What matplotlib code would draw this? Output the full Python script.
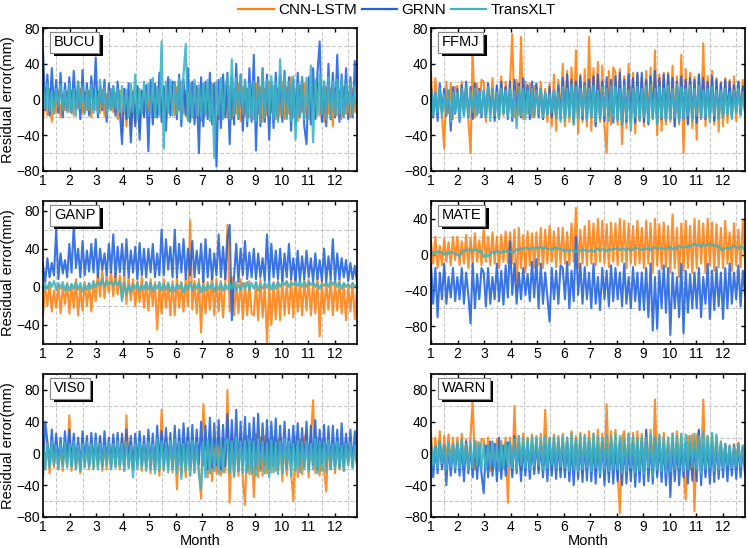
import numpy as np
import matplotlib
matplotlib.use('Agg')
import matplotlib.pyplot as plt
import matplotlib.patheffects as pe
from matplotlib.ticker import FixedLocator

plt.rcParams['font.family'] = ['Liberation Sans', 'DejaVu Sans']

# residual errors (mm), 12 samples per month
stations = ['BUCU', 'FFMJ', 'GANP', 'MATE', 'VIS0', 'WARN']
models = ['CNN-LSTM', 'GRNN', 'TransXLT']

bucu_cnn = [-22, 8, -18, 12, -25, 5, -15, 10, -20, 6, -12, 9,
            -14, 10, -18, 6, -10, 12, -16, 8, -12, 10, -20, 7,
            -12, 9, -15, 11, -18, 6, -10, 12, -14, 8, -22, 10,
            -38, 12, -30, 8, -40, 10, -25, 14, -36, 9, -18, 12,
            -12, 15, -20, 10, -16, 18, -14, 12, -22, 16, -10, 14,
            -18, 14, -12, 20, -16, 10, -22, 15, -14, 18, -20, 12,
            -24, 16, -18, 12, -20, 18, -15, 14, -22, 10, -18, 15,
            -20, 15, -22, 12, -16, 18, -24, 14, -18, 12, -20, 16,
            -22, 18, -16, 14, -25, 12, -18, 20, -14, 15, -22, 12,
            -18, 20, -22, 14, -16, 25, -20, 12, -24, 16, -14, 18,
            -20, 14, -16, 12, -22, 18, -18, 10, -25, 14, -16, 12,
            -30, 12, -18, 10, -22, 14, -16, 8, -20, 12, -14, 10]
bucu_grnn = [55, -12, 28, -18, 35, -10, 22, -15, 30, -20, 18, -12,
             25, -15, 32, -10, 20, -22, 33, -14, 18, -18, 26, -10,
             47, -20, 15, -12, 22, -25, 18, -10, 15, -18, 20, -14,
             -50, 12, -22, 18, -48, 8, -30, 15, -45, 10, -20, 16,
             -58, 22, -28, 18, -20, 30, -25, 15, -35, 25, -18, 20,
             18, -22, 28, -30, 22, -18, 35, -25, 20, -28, 15, -60,
             25, -30, 20, -22, 30, -28, 18, -75, 22, -32, 28, -20,
             30, -50, 25, -28, 40, -22, 28, -35, 22, -30, 35, -25,
             50, -57, 25, -30, 35, -25, 28, -45, 20, -32, 30, -22,
             28, -25, 32, -20, 25, -35, 22, -28, 30, -20, 25, -30,
             -50, 25, -28, 35, -22, 30, 65, -25, 20, -30, 40, -22,
             30, -20, 50, -25, 28, -18, 35, -22, 25, -20, 43, -15]
bucu_trans = [14, -10, 18, -13, 9, -16, 12, -8, 16, -12, 10, -14,
              18, -14, 12, -18, 20, -10, 14, -16, 11, -12, 16, -15,
              10, -15, 22, -9, 13, -17, 9, -12, 15, -10, 12, -14,
              15, -13, 11, -20, 18, -14, 28, -22, 12, -16, 20, -12,
              18, -16, 24, -20, 14, -18, 65, -55, 20, -15, 22, -18,
              20, -16, 24, -22, 28, 62, -24, 18, -20, 22, -18, 16,
              -20, 18, -16, 22, -24, 16, -65, 20, -18, 24, -22, 15,
              25, -22, 45, -18, 24, -20, 28, -16, 22, -24, 18, -20,
              20, -24, 18, -26, 32, -20, 22, -18, 26, -22, 20, -25,
              45, -18, 28, -22, 20, -24, 26, -45, 18, -20, 25, -22,
              24, -22, 38, -48, 22, -18, 28, -16, 20, -22, 25, -20,
              20, -18, 22, -16, 24, -20, 18, -14, 20, -16, 15, -12]

ffmj_cnn = [30, -20, 24, -14, 12, -18, -55, 20, -15, 18, -22, 14,
            15, -18, 20, -12, 16, -22, -60, 50, -20, 18, -15, 22,
            20, -25, 18, -16, 24, -20, 15, -22, 26, -18, 20, -15,
            18, 73, -20, 22, -18, 70, -22, 20, -16, 18, -20, 15,
            16, -14, 20, -22, 12, -25, 18, -30, 28, -35, 22, -20,
            40, -30, 32, -25, 36, -28, 55, -38, 28, -25, 34, -30,
            70, -35, 35, -28, 42, -25, 38, -30, -60, 32, -28, 36,
            30, -28, 34, -50, 26, -32, 40, -25, 30, -38, 28, -24,
            25, -30, 32, -26, 36, -22, 55, -40, 28, -35, 30, -28,
            30, -25, 38, -30, 26, -28, 50, -60, 34, -26, 30, -32,
            25, -45, 28, -22, 63, -30, 26, -24, 32, -28, 24, -36,
            20, -30, 24, -26, 22, -20, 26, -24, 20, -18, 22, -15]
ffmj_grnn = [15, -20, 8, -24, 18, -14, 12, -18, 10, -35, 14, -16,
             12, -25, 16, -18, 20, -20, 14, -22, 18, -16, 12, -20,
             10, -20, 18, -14, 12, -24, 16, -18, 20, -15, 14, -22,
             20, -24, 22, -16, 18, -20, 24, -14, 16, -22, 20, -18,
             18, -20, 12, -22, 8, -16, 14, -20, 10, -18, 16, -22,
             24, -20, 28, -16, 22, -26, 20, -18, 26, -22, 18, -20,
             22, -20, 26, -30, 28, -22, 20, -24, 25, -18, 22, -26,
             26, -22, 30, -28, 22, -25, 28, -20, 24, -26, 30, -22,
             30, -25, 22, -28, 26, -20, 32, -26, 24, -22, 28, -24,
             28, -22, 24, -30, 20, -25, 26, -22, 22, -28, 24, -20,
             22, -26, 28, -20, 24, -22, 20, -18, 26, -24, 22, -20,
             18, -20, 22, -15, 20, -18, 16, -14, 20, -16, 15, -12]
ffmj_trans = [10, -18, 8, -14, 12, -20, 6, -16, 10, -25, 8, -15,
              8, -22, 12, -18, 14, -20, 10, -14, 12, -18, 9, -16,
              10, -20, 14, -24, 12, -18, 8, -22, 12, -16, 10, -20,
              12, -20, 10, -32, 14, -18, 12, -22, 10, -16, 12, -20,
              10, -15, 12, -20, 8, -18, 6, -14, 10, -22, 8, -25,
              14, -24, 12, -20, 16, -28, 14, -22, 12, -18, 15, -24,
              12, -20, 15, -25, 10, -22, 14, -18, 12, -24, 15, -20,
              14, -24, 12, -28, 15, -22, 10, -35, 12, -20, 14, -24,
              12, -20, 15, -25, 16, -22, 12, -28, 14, -20, 12, -24,
              15, -22, 12, -20, 17, -25, 14, -22, 12, -18, 15, -24,
              12, -18, 15, -22, 10, -20, 12, -25, 14, -18, 10, -22,
              10, -20, 12, -18, 8, -22, 10, -15, 12, -18, 8, -14]

ganp_cnn = [-30, 0, -20, 5, -26, -4, -22, 2, -28, 0, -18, 4,
            -28, 2, -22, 8, -30, 0, -25, 5, -20, 3, -26, 6,
            -15, 15, -10, 18, -12, 12, -6, 16, -10, 14, -8, 12,
            -12, 12, -18, 10, -14, 8, -20, 6, -16, 10, -22, 5,
            -25, 8, -20, 5, -45, 3, -28, 8, -22, 4, -30, 6,
            -30, 10, -22, 5, -26, 8, -20, 70, -24, 6, -28, 8,
            -48, 10, -28, 5, -24, 12, -30, 8, -26, 6, -32, 4,
            65, -26, 10, -30, 5, -28, 8, -34, 4, -30, 6, -28,
            -30, 5, -35, 8, -32, 3, -58, 2, -40, 5, -34, 6,
            -35, 10, -30, 5, -28, 8, -32, 10, -26, 6, -30, 8,
            -25, 8, -30, 5, -28, 10, -52, 6, -28, 5, -24, 8,
            -30, 5, -25, 8, -28, 3, -35, 2, -26, 4, -34, 0]
ganp_grnn = [22, 5, 30, 10, 25, 12, 60, 8, 35, 14, 28, 10,
             45, 15, 65, 20, 40, 10, 48, 12, 38, 16, 45, 15,
             50, 10, 40, 18, 35, 12, 45, 15, 55, 10, 42, 15,
             45, 12, 50, 10, 38, 15, 42, 8, 46, 12, 40, 10,
             40, 15, 45, 10, 35, 12, 60, 12, 50, 18, 42, 10,
             60, 10, 45, 15, 50, 8, 40, 12, 48, 10, 38, 14,
             45, 5, 50, 10, 40, 8, 35, 12, 55, 10, 42, 8,
             50, 65, -35, 10, 45, 5, 40, 12, 48, 8, 36, 10,
             40, 8, 35, 10, 30, 6, 55, 5, 45, 10, 38, 8,
             40, 5, 35, 10, 45, 8, 30, 5, 38, 6, 32, 8,
             38, 10, 30, 5, 35, 8, 28, 6, 40, 5, 32, 8,
             50, 5, 35, 8, 30, 10, 28, 6, 25, 8, 22, 5]
ganp_trans = [-5, 3, -2, 5, 0, 6, -3, 4, -2, 5, -4, 3,
              -4, 3, -2, 5, -3, 4, -5, 2, -3, 4, -2, 5,
              0, 5, 2, 8, 0, 6, 3, 5, 1, 7, 2, 6,
              -15, 4, -8, 2, -5, 3, -2, 4, -4, 2, -3, 5,
              -3, 4, -5, 2, -2, 5, -4, 3, -3, 4, -5, 2,
              -5, 3, -2, 4, -6, 2, -3, 5, -4, 3, -2, 4,
              -6, 2, -4, 3, -2, 4, -5, 2, -3, 4, -4, 3,
              -3, 4, -2, 5, -4, 2, -3, 4, -2, 5, -3, 4,
              -2, 5, -4, 3, -2, 4, -1, 5, -3, 4, -2, 5,
              0, 5, 2, 6, 0, 4, 2, 5, 1, 6, 0, 5,
              0, 6, 2, 5, 0, 4, -2, 3, 1, 5, 0, 6,
              2, 6, 0, 5, -2, 4, 0, 3, -1, 4, 0, 3]

mate_cnn = [15, -10, 20, -15, 10, -12, 18, -8, 14, -12, 20, -6,
            20, -12, 15, -10, 22, -15, 18, -10, 24, -8, 16, -12,
            30, -8, 20, -12, 25, -10, 20, -15, 22, -8, 26, -10,
            25, -10, 28, -40, 30, -15, 22, -20, 26, -12, 24, -15,
            25, -12, 30, -15, 28, -10, 32, -8, 26, -14, 30, -10,
            30, -10, 25, -12, 35, -8, 52, -15, 28, -10, 32, -12,
            38, -10, 35, -12, 40, -8, 38, -10, 34, -14, 36, -8,
            35, -12, 40, -8, 38, -15, 35, -10, 32, -12, 38, -10,
            30, -15, 38, -10, 35, -20, 40, -12, 34, -16, 36, -14,
            32, -20, 45, -15, 30, -25, 35, -18, 38, -15, 32, -20,
            40, -15, 38, -10, 35, -20, 40, -12, 36, -18, 34, -14,
            30, -15, 38, -10, 25, -18, 35, -12, 28, -14, 38, -10]
mate_grnn = [-10, -55, -15, -70, -20, -50, -10, -55, -25, -48, -15, -52,
             -25, -50, -15, -55, -20, -45, -77, -10, -60, -22, -50, -15,
             -20, -58, -15, -55, -25, -50, -10, -52, -18, -56, -12, -48,
             15, -45, -10, -55, -20, -50, -15, -45, -22, -52, -8, -48,
             -5, -60, -10, -55, -20, -48, -75, -15, -50, -18, -55, -12,
             -15, -50, -8, -60, -18, -52, 20, -45, -10, -55, -14, -50,
             -20, -60, -10, -55, -25, -62, -15, -50, -18, -58, -12, -52,
             -15, -50, -20, -58, -10, -55, -25, -60, -14, -52, -20, -62,
             -20, -62, -15, -70, -10, -85, -25, -83, -18, -60, -12, -65,
             -15, -90, -20, -60, -25, -70, -10, -88, -18, -65, -22, -60,
             -20, -60, -15, -70, -25, -55, -10, -72, -18, -62, -14, -58,
             -20, -72, -15, -60, -10, -55, -20, -50, -12, -58, -18, -45]
mate_trans = [0, 3, 1, 4, 2, 3, 0, 2, 1, 3, 2, 1,
              0, -2, 3, 5, 4, 6, 5, 4, 6, 5, 3, 4,
              -3, 0, -2, 1, 3, 2, 4, 3, 2, 4, 3, 5,
              3, 2, 4, 6, 5, 7, 6, 8, 7, 6, 8, 7,
              8, 7, 9, 6, 8, 7, 6, 5, 7, 8, 6, 7,
              5, 4, 6, 3, 5, 4, 3, 5, 4, 6, 5, 4,
              4, 6, 3, 5, 7, 4, 6, 5, 4, 6, 5, 7,
              6, 8, 5, 7, 6, 5, 7, 4, 6, 8, 7, 6,
              5, 7, 6, 8, 5, 7, 8, 6, 7, 8, 6, 7,
              7, 9, 6, 8, 7, 10, 8, 9, 8, 10, 9, 11,
              12, 10, 11, 9, 12, 10, 11, 12, 10, 11, 9, 10,
              6, 5, 7, 8, 6, 9, 10, 8, 7, 9, 8, 4]

vis0_cnn = [20, -20, 15, -25, 12, -18, 15, -20, 10, -22, 14, -16,
            48, -22, 15, -20, 12, -25, 18, -15, 14, -20, 16, -18,
            15, -18, 20, -22, 12, -20, 15, -18, 18, -16, 12, -20,
            20, -22, 48, -18, 15, -20, 12, -15, 16, -22, 14, -18,
            18, -25, 15, -20, 12, -28, 55, -22, 20, -18, 16, -24,
            20, -45, 18, -25, 15, -30, 22, -28, 16, -24, 20, -22,
            -57, 62, 20, -30, 25, -35, 18, -25, 22, -28, 20, -24,
            80, -62, 25, -30, 20, -28, 24, -32, -65, 22, -26, 18,
            -55, 25, -30, 20, -28, 22, -25, 18, -24, 20, -22, 16,
            20, -35, 15, -28, 18, -24, -60, 22, -30, 18, -26, 20,
            25, -30, 22, 67, -25, 20, -28, 18, -22, -48, 16, -20,
            15, -25, 18, -20, 12, -22, 15, -12, 14, -18, 12, -14]
vis0_grnn = [-30, 40, 15, -15, 30, -10, 25, -12, 20, -14, 28, -10,
             30, -15, 25, -12, 20, -18, 28, -10, 22, -16, 26, -12,
             25, -12, 22, -15, 28, -10, 20, -15, 24, -12, 26, -14,
             25, -15, 30, -10, 22, -18, 25, -12, 28, -14, 22, -16,
             30, -15, 25, -18, 35, -12, 28, -15, 32, -14, 26, -18,
             35, -18, 30, -15, 38, -12, 32, -18, 36, -16, 30, -14,
             40, -15, 35, -20, 45, -18, 38, -15, 42, -20, 36, -16,
             50, -20, 42, -18, 55, -22, 40, -15, 46, -20, 38, -18,
             45, -18, 50, -20, 38, -15, 42, -18, 40, -16, 44, -20,
             35, -15, 40, -18, 30, -12, 35, -15, 38, -14, 32, -16,
             40, -18, 35, -15, 42, -20, 30, -12, 36, -16, 34, -18,
             35, -15, 30, -18, 38, -12, 25, -10, 30, -14, 28, -12]
vis0_trans = [10, -20, 12, -18, 15, -15, 10, -20, 12, -16, 14, -18,
              12, -18, 15, -20, 10, -22, 12, -18, 14, -16, 12, -20,
              15, -20, 12, -18, 10, -15, 14, -20, 12, -18, 15, -16,
              12, -22, 15, -18, 10, -30, 12, -20, 14, -18, 12, -22,
              15, -20, 12, -25, 18, -22, 15, -20, 14, -24, 16, -20,
              18, -25, 15, -32, 12, -22, 15, -28, 16, -24, 14, -26,
              -45, 15, -30, 18, -25, 15, -22, 12, -26, 16, -24, 14,
              18, -25, 15, -28, 20, -22, 15, -25, 16, -24, 18, -26,
              15, -28, 18, -22, 15, -25, 12, -30, 16, -24, 14, -26,
              15, -25, 18, -20, 15, -28, 12, -22, 16, -24, 14, -20,
              15, -22, 12, -20, 18, -25, 15, -22, 14, -24, 16, -20,
              12, -20, 15, -18, 10, -22, 12, -15, 14, -18, 10, -16]

warn_cnn = [25, -15, 20, -12, 28, -18, 22, -10, 24, -14, 20, -12,
            20, -15, 25, -12, 18, -20, 22, 65, -20, 15, -16, 18,
            18, -18, 20, -22, 15, -15, 18, -20, 16, -18, 20, -62,
            20, -25, 60, -18, 22, -20, 25, -15, 20, -22, 24, -18,
            22, -20, 25, -18, 55, -15, 20, -22, 24, -18, 22, -20,
            25, -22, 20, -25, 28, -18, 22, -20, 26, -24, 24, -20,
            28, -20, 25, -22, 30, -18, 25, -22, 62, -25, 28, -20,
            30, -25, -75, 20, 28, -22, 25, -22, 26, -20, 28, -24,
            25, -22, 28, -20, 30, -25, 68, -25, 22, -20, 26, -18,
            20, -18, 25, -22, 28, -15, 24, -20, -58, 22, -20, 24,
            -73, 22, 28, -20, 68, -25, 22, -18, 24, -20, 22, -18,
            15, -15, 12, -18, 10, -20, 12, -10, 14, -16, 10, -12]
warn_grnn = [10, -30, 8, -25, 15, -20, 10, -40, 12, -28, 8, -24,
             12, -28, 10, -35, 15, -25, 8, -30, 12, -32, 10, -26,
             -50, 10, -30, 15, -28, 12, -35, 20, -32, 10, -28, 14,
             10, -30, 22, -25, 12, -35, 10, -28, 14, -32, 12, -26,
             15, -25, 10, -30, 12, -35, 15, -28, 10, -32, 14, -30,
             12, -30, 15, -35, 10, -40, 15, -32, 12, -36, 14, -34,
             15, -35, 12, -38, 10, -30, 15, -40, 12, -36, 14, -38,
             10, -35, 15, -40, 12, -38, 10, -35, 14, -42, 12, -36,
             15, -40, 30, -35, 12, -38, 20, -30, 14, -36, 12, -40,
             10, -55, 15, -35, 12, -40, 10, -30, 14, -38, 12, -34,
             15, -35, 30, -40, 12, -30, 15, -38, 12, -36, 14, -32,
             10, -30, 12, -35, 8, -28, 10, -32, 12, -30, 8, -26]
warn_trans = [12, -15, 10, -18, 15, -12, 10, -20, 14, -16, 12, -18,
              15, -18, 18, -15, 12, -20, 15, -18, 16, -16, 14, -20,
              12, -20, 10, -15, 15, -18, 10, -22, 12, -18, 14, -16,
              15, -18, 18, -20, 22, -15, 20, -18, 18, -20, 22, -16,
              20, -15, 18, -20, 22, -18, 20, -15, 22, -18, 20, -16,
              22, -18, 20, -22, 25, -20, 18, -22, 24, -20, 22, -18,
              20, -22, 25, -18, 22, -25, 20, -20, 24, -22, 22, -20,
              25, -20, 22, -25, 20, -22, 25, -18, 22, -24, 20, -22,
              22, -25, 20, -18, 25, -28, 22, -20, 24, -22, 20, -24,
              20, -22, 25, -20, 22, -18, 25, -22, 24, -20, 22, -18,
              25, -20, 22, -25, 28, -20, 22, -18, 26, -22, 24, -20,
              15, -18, 12, -15, 10, -18, 8, -15, 12, -16, 10, -14]

month_ticks = list(range(1, 13))

series = [
    (bucu_cnn, bucu_grnn, bucu_trans),
    (ffmj_cnn, ffmj_grnn, ffmj_trans),
    (ganp_cnn, ganp_grnn, ganp_trans),
    (mate_cnn, mate_grnn, mate_trans),
    (vis0_cnn, vis0_grnn, vis0_trans),
    (warn_cnn, warn_grnn, warn_trans),
]
ylims = [(-80, 80), (-80, 80), (-60, 90), (-100, 60), (-80, 100), (-80, 100)]
colors = ['#ff7f0e', '#1f62e0', '#3cb4c4']
widths = [1.5, 1.5, 1.6]

fig = plt.figure(figsize=(7.48, 5.48), dpi=100)

W, H = 748, 548
lefts = [43, 431]
tops = [28, 201, 374]
pw, ph = 314, 143

lines = []
for k, name in enumerate(stations):
    r, c = divmod(k, 2)
    ax = fig.add_axes([lefts[c] / W, 1 - (tops[r] + ph) / H, pw / W, ph / H])
    for vals, col, lw, lab in zip(series[k], colors, widths, models):
        x = np.linspace(1, 12.83, len(vals))
        ln, = ax.plot(x, vals, color=col, lw=lw, alpha=0.88, label=lab)
        if k == 0:
            lines.append(ln)
    ax.set_xlim(1, 12.83)
    lo, hi = ylims[k]
    ax.set_ylim(lo, hi)
    ax.xaxis.set_major_locator(FixedLocator(month_ticks))
    ax.yaxis.set_major_locator(FixedLocator(np.arange(-80, 81, 40)))
    ax.xaxis.set_minor_locator(FixedLocator(np.arange(1.5, 13, 1)))
    ax.yaxis.set_minor_locator(FixedLocator(np.arange(-100, 101, 40)))
    ax.grid(which='minor', ls='--', color='#c8c8c8', lw=0.8)
    ax.tick_params(which='major', direction='in', length=3, width=1,
                   top=True, right=True, labelsize=10, pad=2)
    ax.tick_params(which='minor', length=0)
    for s in ax.spines.values():
        s.set_linewidth(1.2)
    if c == 0:
        ax.set_ylabel('Residual error(mm)', fontsize=10.5, labelpad=1)
    if r == 2:
        ax.set_xlabel('Month', fontsize=10.5, labelpad=0)
    t = ax.text(0.035, 0.9, name, transform=ax.transAxes, fontsize=10.5,
                va='center', ha='left', zorder=10,
                bbox=dict(boxstyle='square,pad=0.25', fc='white', ec='#888888', lw=0.8))
    t.get_bbox_patch().set_path_effects(
        [pe.withSimplePatchShadow(offset=(2.5, -2.5), shadow_rgbFace='black', alpha=1.0),
         pe.Normal()])

fig.legend(handles=lines, labels=models, loc='center', ncol=3,
           bbox_to_anchor=(397 / W, 1 - 10 / H), frameon=False, fontsize=11,
           handlelength=2.3, handletextpad=0.3, columnspacing=0.3, borderpad=0)
for lh in fig.legends[0].get_lines():
    lh.set_linewidth(1.6)
    lh.set_alpha(1)

fig.savefig('out.png', dpi=100)
